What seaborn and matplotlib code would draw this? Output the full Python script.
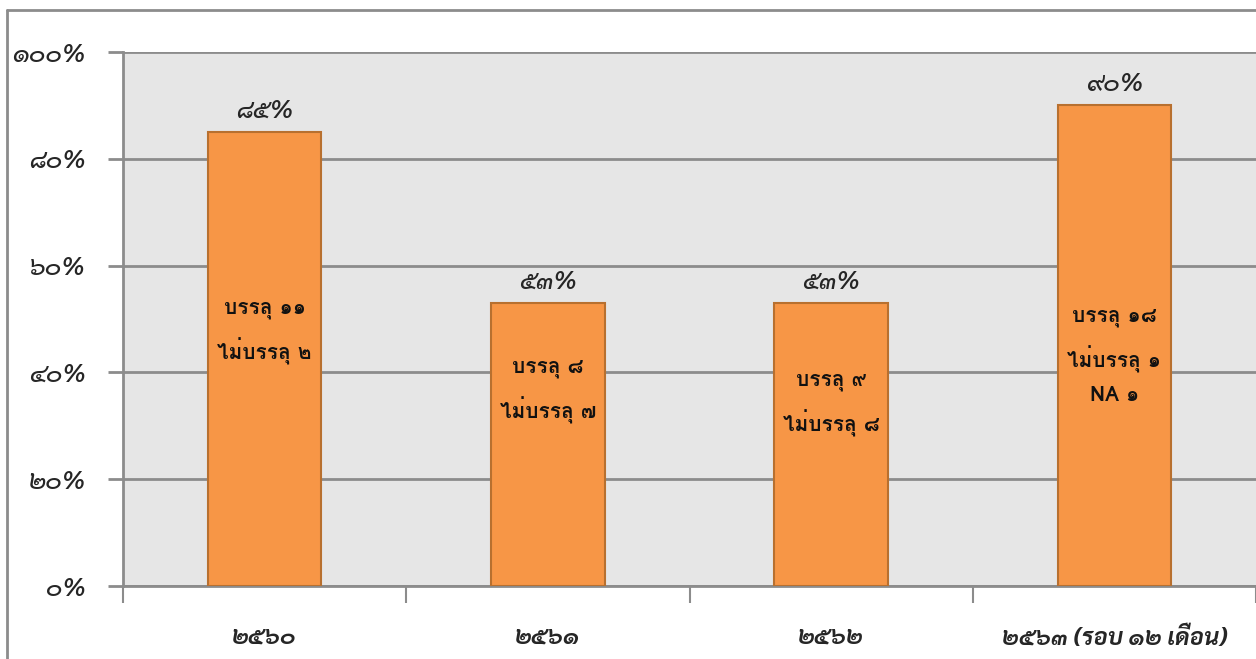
import matplotlib
matplotlib.use("Agg")
import pandas as pd
import matplotlib.pyplot as plt
import seaborn as sns
from matplotlib.lines import Line2D

sns.set_theme(style="white")

# data
years = ["๒๕๖๐", "๒๕๖๑", "๒๕๖๒", "๒๕๖๓ (รอบ ๑๒ เดือน)"]
percent = [85, 53, 53, 90]
notes = [
    "บรรลุ ๑๑\nไม่บรรลุ ๒",
    "บรรลุ ๘\nไม่บรรลุ ๗",
    "บรรลุ ๙\nไม่บรรลุ ๘",
    "บรรลุ ๑๘\nไม่บรรลุ ๑\nNA ๑",
]
y_ticks = [0, 20, 40, 60, 80, 100]

thai_digits = str.maketrans("0123456789", "๐๑๒๓๔๕๖๗๘๙")


def thai_pct(v):
    return f"{v}%".translate(thai_digits)


df = pd.DataFrame({"year": years, "percent": percent})

fig = plt.figure(figsize=(12.56, 6.59), dpi=100)
ax = fig.add_axes([123 / 1256, 73 / 659, 1133 / 1256, 534 / 659])

sns.barplot(data=df, x="year", y="percent", color="#F79646", saturation=1,
            width=0.4, edgecolor="#B8702F", linewidth=1.5, ax=ax, zorder=3)

ax.set_facecolor("#E6E6E6")
ax.set_ylim(0, 100)
ax.set_xlim(-0.5, len(years) - 0.5)

grid_c = "#8C8C8C"
ax.set_yticks(y_ticks)
ax.set_yticklabels([thai_pct(v) for v in y_ticks])
ax.yaxis.grid(True, color=grid_c, linewidth=2)
ax.tick_params(axis="y", length=11, width=2, color=grid_c, pad=16, left=True)

# x: boundary ticks (major), labels centered (minor)
ax.set_xticks([i - 0.5 for i in range(len(years) + 1)])
ax.set_xticklabels([""] * (len(years) + 1))
ax.set_xticks(range(len(years)), minor=True)
ax.set_xticklabels(years, minor=True)
ax.tick_params(axis="x", which="major", length=12, width=1.5, color=grid_c,
               bottom=True, direction="out")
ax.tick_params(axis="x", which="minor", length=0, pad=29, bottom=True)
ax.set_xlabel("")
ax.set_ylabel("")

for s in ["top", "right"]:
    ax.spines[s].set_visible(False)
for s in ["left", "bottom"]:
    ax.spines[s].set_color(grid_c)
    ax.spines[s].set_linewidth(2)

for lab in ax.get_yticklabels():
    lab.set_fontfamily("Sarabun")
    lab.set_fontstyle("italic")
    lab.set_fontweight("medium")
    lab.set_fontsize(18)
for lab in ax.get_xticklabels(minor=True):
    lab.set_fontfamily("Sarabun")
    lab.set_fontstyle("italic")
    lab.set_fontweight("bold")
    lab.set_fontsize(17)

# value labels on top of bars
ax.bar_label(ax.containers[0], labels=[thai_pct(v) for v in percent],
             padding=6, fontfamily="Sarabun", fontstyle="italic",
             fontweight="medium", fontsize=18, zorder=4)

# notes inside the bars
note_y = [47.4, 36.5, 34.0, 43.0]
for i, txt in enumerate(notes):
    ax.text(i, note_y[i], txt, ha="center", va="center", fontfamily="Loma",
            fontweight="bold", fontsize=15, linespacing=1.85, color="#111111",
            zorder=5)

# outer chart frame (partly cut off)
fig.add_artist(Line2D([7 / 1256, 7 / 1256], [0, 1 - 10 / 659], color=grid_c,
                      linewidth=2, transform=fig.transFigure))
fig.add_artist(Line2D([7 / 1256, 1], [1 - 10 / 659, 1 - 10 / 659], color=grid_c,
                      linewidth=2, transform=fig.transFigure))

fig.savefig("out.png", dpi=100)
